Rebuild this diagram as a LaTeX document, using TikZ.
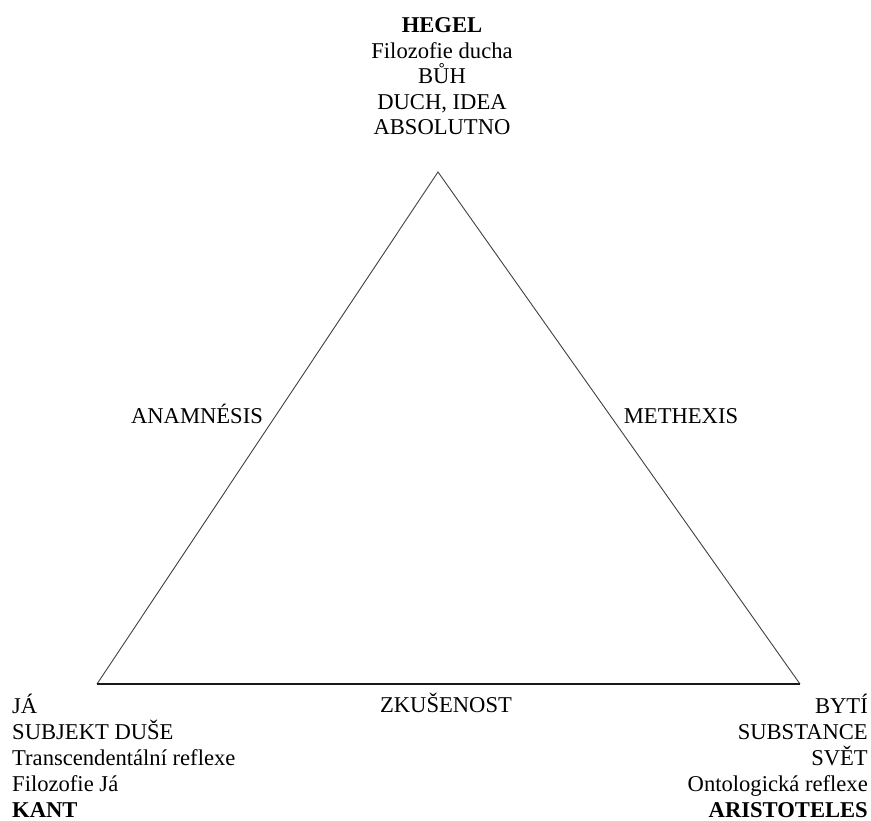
\documentclass[tikz,border=0pt]{standalone}
\usepackage{fontspec}
\setmainfont{Liberation Serif}
\begin{document}
\begin{tikzpicture}[x=1pt,y=-1pt,
  lbl/.style={inner sep=0pt,font=\fontsize{22.6}{26}\selectfont},
  thin edge/.style={line width=0.9pt,draw=black!75},
  base edge/.style={line width=1.7pt,draw=black!90}]
\useasboundingbox (0,0) rectangle (871,821);
% vertices
\coordinate (top) at (438,172);
\coordinate (bl) at (97,684);
\coordinate (br) at (800,684);
\draw[thin edge] (bl) -- (top) -- (br);
\draw[base edge] (bl) -- (br);
% top block
\node[lbl,anchor=base] (h1) at (442,33) {\textbf{HEGEL}};
\node[lbl,anchor=base] (h2) at (442,58.5) {Filozofie ducha};
\node[lbl,anchor=base] (h3) at (442,84) {BŮH};
\node[lbl,anchor=base] (h4) at (442,109.5) {DUCH, IDEA};
\node[lbl,anchor=base] (h5) at (442,135) {ABSOLUTNO};
% left block
\node[lbl,anchor=base west] (k1) at (12,713) {JÁ};
\node[lbl,anchor=base west] (k2) at (12,739) {SUBJEKT DUŠE};
\node[lbl,anchor=base west] (k3) at (12,765) {Transcendentální reflexe};
\node[lbl,anchor=base west] (k4) at (12,791) {Filozofie Já};
\node[lbl,anchor=base west] (k5) at (12,817) {\textbf{KANT}};
% right block
\node[lbl,anchor=base east] (a1) at (868,713) {BYTÍ};
\node[lbl,anchor=base east] (a2) at (868,739) {SUBSTANCE};
\node[lbl,anchor=base east] (a3) at (868,765) {SVĚT};
\node[lbl,anchor=base east] (a4) at (868,791) {Ontologická reflexe};
\node[lbl,anchor=base east] (a5) at (868,817) {\textbf{ARISTOTELES}};
% edge labels
\node[lbl,anchor=base] (ana) at (197,423) {ANAMNÉSIS};
\node[lbl,anchor=base] (met) at (681,423) {METHEXIS};
\node[lbl,anchor=base] (zku) at (446,712) {ZKUŠENOST};
\end{tikzpicture}
\end{document}
